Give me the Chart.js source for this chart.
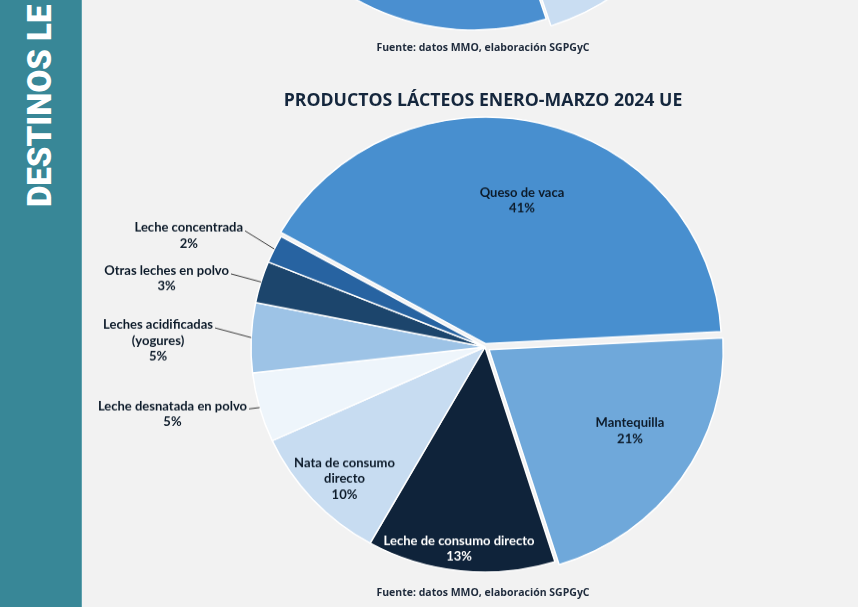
<!DOCTYPE html>
<html>
<head>
<meta charset="utf-8">
<script src="https://cdn.jsdelivr.net/npm/chart.js@4.4.1/dist/chart.umd.min.js"></script>
<style>
html,body{margin:0;padding:0;}
body{width:858px;height:607px;overflow:hidden;background:#f2f2f2;position:relative;font-family:"Open Sans",sans-serif;}
#side{position:absolute;left:0;top:0;width:81px;height:607px;background:#388797;border-right:1px solid #5fa2ae;overflow:hidden;}
#sideText{position:absolute;left:23px;top:207px;transform-origin:0 0;transform:rotate(-90deg);color:#ffffff;font-family:Roboto,sans-serif;font-weight:900;font-size:33px;line-height:33px;white-space:nowrap;}
#topWrap{position:absolute;left:0;top:-500px;width:858px;height:560px;transform-origin:474px 305px;transform:scaleY(0.962);}
#mainWrap{position:absolute;left:0;top:0;width:858px;height:607px;transform-origin:485px 347px;transform:scaleY(0.962);}
#title{position:absolute;left:183px;width:600px;top:87px;line-height:24px;text-align:center;font-weight:700;font-size:17.7px;color:#15273d;white-space:nowrap;}
.src{position:absolute;left:283px;width:400px;text-align:center;font-weight:700;font-size:10.5px;line-height:14px;color:#1f2b3c;white-space:nowrap;}
</style>
</head>
<body>
<div id="side"><div id="sideText">DESTINOS LE</div></div>
<div id="topWrap"><canvas id="topPie" width="858" height="560"></canvas></div>
<div id="mainWrap"><canvas id="mainPie" width="858" height="607"></canvas></div>
<div class="src" id="srcTop" style="top:40px">Fuente: datos MMO, elaboración SGPGyC</div>
<div id="title">PRODUCTOS LÁCTEOS ENERO-MARZO 2024 UE</div>
<div class="src" id="srcBottom" style="top:585px">Fuente: datos MMO, elaboración SGPGyC</div>
<script>
// ---- data (main chart) ----
const categories = [
  "Queso de vaca",
  "Mantequilla",
  "Leche de consumo directo",
  ["Nata de consumo", "directo"],
  "Leche desnatada en polvo",
  ["Leches acidificadas", "(yogures)"],
  "Otras leches en polvo",
  "Leche concentrada"
];
const shares = [41, 21, 13, 10, 5, 5, 3, 2];

// ---- data (upper chart, only its lower edge is visible) ----
const topCategories = ["Nata de consumo directo", "Queso de vaca", "Resto"];
const topShares = [10, 45, 45];

// ---- styles ----
const sliceColors = ["#488fcf", "#6fa8da", "#0f233a", "#c7dcf1", "#eef5fb", "#9dc3e6", "#1c456c", "#2763a1"];
const topColors = ["#c9ddf2", "#4a8fd0", "#6fa8da"];

const labelPlugin = {
  id: 'sliceLabels',
  afterDatasetsDraw(chart, args, opts) {
    if (!opts.placement) return;
    const ctx = chart.ctx;
    const meta = chart.getDatasetMeta(0);
    const values = chart.data.datasets[0].data;
    const total = values.reduce((a, b) => a + b, 0);
    ctx.save();
    ctx.font = opts.font;
    ctx.textAlign = 'center';
    ctx.textBaseline = 'middle';
    meta.data.forEach((arc, i) => {
      const pl = opts.placement[i];
      if (!pl) return;
      const p = arc.getProps(['x', 'y', 'startAngle', 'endAngle', 'outerRadius'], true);
      const mid = (p.startAngle + p.endAngle) / 2;
      const shift = (arc.options.offset || 0) / 4;
      const cx = p.x + Math.cos(mid) * shift;
      const cy = p.y + Math.sin(mid) * shift;
      const lbl = chart.data.labels[i];
      const lines = Array.isArray(lbl) ? lbl.slice() : [lbl];
      lines.push(Math.round(values[i] / total * 100) + '%');
      const lh = opts.lineHeight;
      ctx.fillStyle = pl.color || opts.color;
      if (pl.r !== undefined) {
        const a = mid + (pl.da || 0) * Math.PI / 180;
        const x = cx + Math.cos(a) * p.outerRadius * pl.r;
        const y0 = cy + Math.sin(a) * p.outerRadius * pl.r - (lines.length - 1) * lh / 2;
        lines.forEach((t, k) => ctx.fillText(t, x, y0 + k * lh));
      } else {
        const ex = cx + Math.cos(mid) * p.outerRadius;
        const ey = cy + Math.sin(mid) * p.outerRadius;
        const tx = ex + pl.dx, ty = ey + pl.dy;
        const w = ctx.measureText(lines[0]).width;
        const x = tx - w / 2;
        ctx.strokeStyle = opts.lineColor;
        ctx.lineWidth = 1;
        ctx.beginPath();
        ctx.moveTo(tx + 2, ty + 3);
        ctx.lineTo(ex, ey);
        ctx.stroke();
        lines.forEach((t, k) => ctx.fillText(t, x, ty + k * lh));
      }
    });
    ctx.restore();
  }
};

new Chart(document.getElementById('mainPie'), {
  type: 'pie',
  data: {
    labels: categories,
    datasets: [{
      data: shares,
      backgroundColor: sliceColors,
      borderColor: '#ffffff',
      borderWidth: 1.5,
      offset: [14, 20, 0, 0, 0, 0, 0, 0]
    }]
  },
  options: {
    responsive: false,
    animation: false,
    events: [],
    devicePixelRatio: 1,
    rotation: -60.6,
    radius: 234,
    layout: { padding: { left: 300, right: 188, top: 300, bottom: 213 } },
    plugins: {
      legend: { display: false },
      tooltip: { enabled: false },
      sliceLabels: {
        font: '700 13px Lato, sans-serif',
        color: '#0d1b2a',
        lineHeight: 16.3,
        lineColor: '#3a3a3a',
        placement: [
          { r: 0.653, da: 0.5 },
          { r: 0.702, da: -3.85 },
          { r: 0.902, da: 1.07, color: '#ffffff' },
          { r: 0.839, da: -1.7 },
          { dx: -12.6, dy: -1.6 },
          { dx: -38.2, dy: -13.1 },
          { dx: -32, dy: -11.4 },
          { dx: -31.3, dy: -21.9 }
        ]
      }
    }
  },
  plugins: [labelPlugin]
});

new Chart(document.getElementById('topPie'), {
  type: 'pie',
  data: {
    labels: topCategories,
    datasets: [{
      data: topShares,
      backgroundColor: topColors,
      borderColor: '#ffffff',
      borderWidth: 1.5,
      offset: [24, 0, 0]
    }]
  },
  options: {
    responsive: false,
    animation: false,
    events: [],
    devicePixelRatio: 1,
    rotation: 126,
    radius: 234,
    layout: { padding: { left: 200, right: 110, top: 200, bottom: 150 } },
    plugins: { legend: { display: false }, tooltip: { enabled: false } }
  }
});
</script>
</body>
</html>
